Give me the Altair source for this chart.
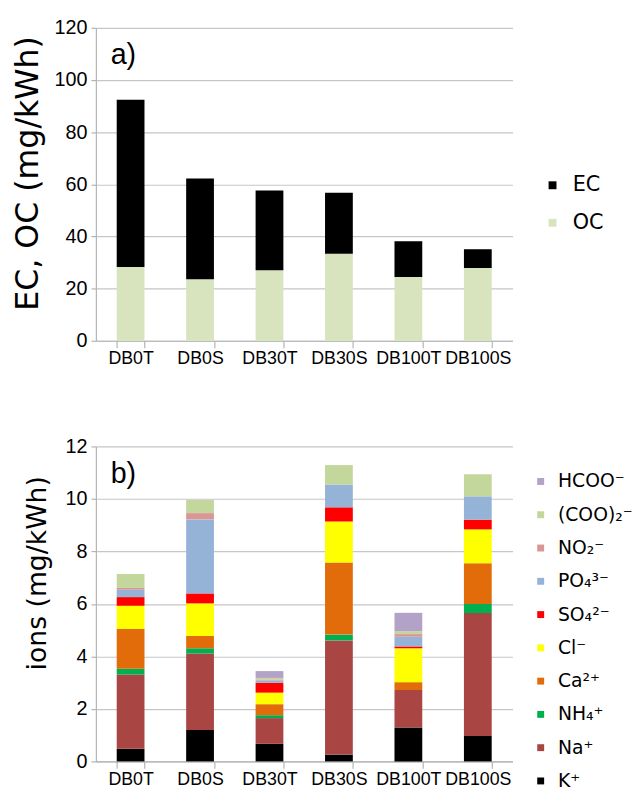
import altair as alt
import pandas as pd

samples = ["DB0T", "DB0S", "DB30T", "DB30S", "DB100T", "DB100S"]

# panel a (mg/kWh)
oc = [28.3, 23.6, 27.0, 33.4, 24.5, 27.9]
ec = [64.1, 38.6, 30.6, 23.4, 13.7, 7.2]

# panel b (mg/kWh), stacked bottom to top
k = [0.48, 1.20, 0.67, 0.26, 1.29, 0.97]
na = [2.83, 2.91, 0.98, 4.35, 1.43, 4.68]
nh4 = [0.22, 0.20, 0.11, 0.22, 0.00, 0.35]
ca = [1.52, 0.47, 0.42, 2.75, 0.30, 1.55]
cl = [0.88, 1.24, 0.44, 1.56, 1.29, 1.29]
so4 = [0.33, 0.38, 0.37, 0.54, 0.07, 0.37]
po4 = [0.28, 2.82, 0.09, 0.87, 0.37, 0.89]
no2 = [0.07, 0.24, 0.04, 0.00, 0.10, 0.00]
coo2 = [0.53, 0.50, 0.06, 0.74, 0.11, 0.84]
hcoo = [0.00, 0.00, 0.26, 0.00, 0.70, 0.00]

ion_names = ["K⁺", "Na⁺", "NH₄⁺", "Ca²⁺", "Cl⁻", "SO₄²⁻", "PO₄³⁻", "NO₂⁻", "(COO)₂⁻", "HCOO⁻"]
ion_values = [k, na, nh4, ca, cl, so4, po4, no2, coo2, hcoo]
ion_colors = ["#000000", "#A94644", "#00B050", "#E36C0A", "#FFFF00",
              "#FF0000", "#95B3D7", "#D99694", "#C3D69B", "#B3A2C7"]

comp_names = ["EC", "OC"]
comp_colors = ["#000000", "#D7E4BD"]

FONT = "Liberation Sans"
LFONT = "DejaVu Sans"
GRID = "#C6C6C6"
DOMAIN = "#B4B4B4"

rows_a = []
for i, s in enumerate(samples):
    rows_a.append({"sample": s, "comp": "OC", "value": oc[i], "ord": 0})
    rows_a.append({"sample": s, "comp": "EC", "value": ec[i], "ord": 1})
df_a = pd.DataFrame(rows_a)

rows_b = []
for j, (name, vals) in enumerate(zip(ion_names, ion_values)):
    for i, s in enumerate(samples):
        rows_b.append({"sample": s, "ion": name, "value": vals[i], "ord": j})
df_b = pd.DataFrame(rows_b)


def x_enc():
    return alt.X(
        "sample:N", sort=samples,
        scale=alt.Scale(paddingInner=0.6, paddingOuter=0.3),
        axis=alt.Axis(title=None, labelAngle=0, tickBand="extent", tickSize=7,
                      labelPadding=2, labelFontSize=18, labelFont=FONT,
                      labelColor="#000000", domainColor=DOMAIN, tickColor=DOMAIN,
                      domainWidth=1.2, tickWidth=1.2, grid=False),
    )


def label_layer(txt):
    return alt.Chart(pd.DataFrame({"t": [txt]})).mark_text(
        align="left", baseline="alphabetic", fontSize=29, font=FONT, color="#000000"
    ).encode(text="t:N", x=alt.value(15), y=alt.value(37))


bars_a = alt.Chart(df_a).mark_bar().encode(
    x=x_enc(),
    y=alt.Y("value:Q", stack="zero", scale=alt.Scale(domain=[0, 120], nice=False),
            axis=alt.Axis(values=[0, 20, 40, 60, 80, 100, 120], title="EC, OC (mg/kWh)",
                          titleFont="DejaVu Sans", titleFontSize=32, titleFontWeight="normal",
                          titleColor="#000000", titlePadding=10, titleY=147,
                          labelFontSize=20, labelFont=FONT, labelColor="#000000",
                          tickSize=5, labelPadding=4, gridColor=GRID, gridWidth=1.2,
                          domainColor=DOMAIN, tickColor=DOMAIN, domainWidth=1.2, tickWidth=1.2)),
    color=alt.Color("comp:N", scale=alt.Scale(domain=comp_names, range=comp_colors),
                    legend=alt.Legend(title=None, orient="none", legendX=452, legendY=149,
                                      symbolType="square", symbolSize=64, symbolStrokeWidth=0,
                                      labelFontSize=21, labelFont=LFONT, labelColor="#000000",
                                      rowPadding=16, labelOffset=10, padding=0)),
    order=alt.Order("ord:Q"),
)
chart_a = alt.layer(bars_a, label_layer("a)")).properties(width=422, height=317)

bars_b = alt.Chart(df_b).mark_bar().encode(
    x=x_enc(),
    y=alt.Y("value:Q", stack="zero", scale=alt.Scale(domain=[0, 12], nice=False),
            axis=alt.Axis(values=[0, 2, 4, 6, 8, 10, 12], title="ions (mg/kWh)",
                          titleFont="DejaVu Sans", titleFontSize=27, titleFontWeight="normal",
                          titleColor="#000000", titlePadding=14, titleY=128,
                          labelFontSize=20, labelFont=FONT, labelColor="#000000",
                          tickSize=5, labelPadding=4, gridColor=GRID, gridWidth=1.2,
                          domainColor=DOMAIN, tickColor=DOMAIN, domainWidth=1.2, tickWidth=1.2)),
    color=alt.Color("ion:N", scale=alt.Scale(domain=ion_names[::-1], range=ion_colors[::-1]),
                    legend=alt.Legend(title=None, orient="none", legendX=441, legendY=26,
                                      symbolType="square", symbolSize=49, symbolStrokeWidth=0,
                                      labelFontSize=19, labelFont=LFONT, labelColor="#000000",
                                      rowPadding=13.7, labelOffset=8, padding=0)),
    order=alt.Order("ord:Q"),
)
chart_b = alt.layer(bars_b, label_layer("b)")).properties(width=422, height=319)

chart = alt.vconcat(chart_a, chart_b, spacing=70).resolve_scale(color="independent").properties(
    padding={"left": 3, "top": 5, "right": 0, "bottom": 0}
).configure_view(stroke=None)

chart.save("out.html", embed_options={"renderer": "svg", "actions": False})
